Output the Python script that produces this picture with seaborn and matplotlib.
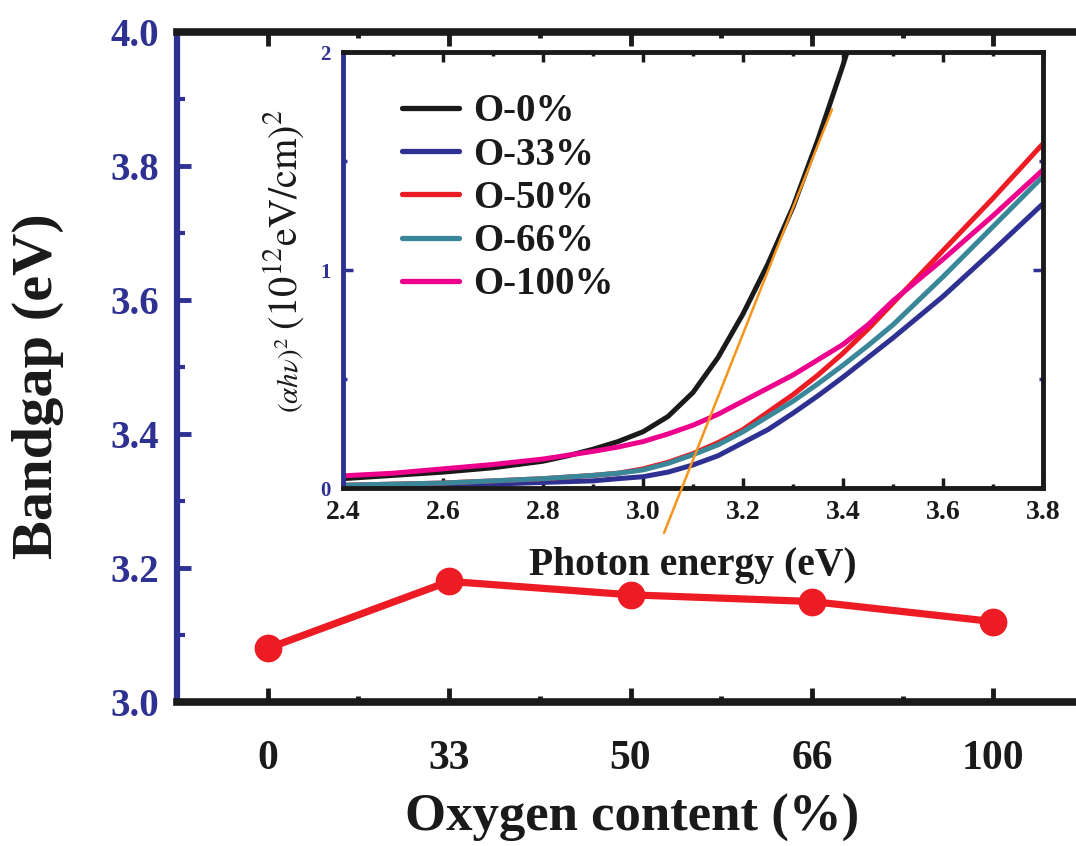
import numpy as np
import pandas as pd
import matplotlib
matplotlib.use("Agg")
import matplotlib.pyplot as plt
import seaborn as sns
from matplotlib.ticker import MultipleLocator, FormatStrFormatter

# ---------------- data ----------------
oxygen_labels = ["0", "33", "50", "66", "100"]
bandgap_ev = [3.08, 3.18, 3.16, 3.15, 3.12]

energy = [2.4, 2.5, 2.6, 2.7, 2.8, 2.9, 2.95, 3.0, 3.05, 3.1, 3.15, 3.2, 3.25,
          3.3, 3.35, 3.4, 3.45, 3.5, 3.6, 3.7, 3.8]
energy_o0 = [2.4, 2.5, 2.6, 2.7, 2.8, 2.85, 2.9, 2.95, 3.0, 3.05, 3.1, 3.15,
             3.2, 3.25, 3.3, 3.35, 3.4, 3.45]
abs_o0 = [0.045, 0.06, 0.075, 0.095, 0.125, 0.15, 0.18, 0.215, 0.26, 0.33,
          0.44, 0.60, 0.80, 1.03, 1.29, 1.60, 1.94, 2.30]
abs_o33 = [0.008, 0.01, 0.015, 0.02, 0.028, 0.035, 0.045, 0.054, 0.075, 0.108,
           0.15, 0.21, 0.27, 0.345, 0.425, 0.51, 0.60, 0.69, 0.88, 1.09, 1.305]
abs_o50 = [0.015, 0.02, 0.025, 0.035, 0.045, 0.06, 0.07, 0.09, 0.12, 0.16,
           0.21, 0.27, 0.35, 0.43, 0.52, 0.62, 0.73, 0.85, 1.09, 1.33, 1.58]
abs_o66 = [0.015, 0.02, 0.025, 0.035, 0.045, 0.06, 0.07, 0.085, 0.115, 0.155,
           0.20, 0.26, 0.33, 0.40, 0.48, 0.565, 0.655, 0.75, 0.97, 1.20, 1.43]
abs_o100 = [0.058, 0.07, 0.09, 0.11, 0.135, 0.17, 0.19, 0.215, 0.25, 0.29,
            0.34, 0.40, 0.46, 0.52, 0.59, 0.66, 0.75, 0.86, 1.05, 1.25, 1.46]
series_names = ["O-0%", "O-33%", "O-50%", "O-66%", "O-100%"]
series_colors = ["#1a1a1a", "#2e3192", "#ed1c24", "#3a8799", "#ec008c"]

tangent_energy = [3.042, 3.378]
tangent_values = [-0.204, 1.737]

# ---------------- style ----------------
sns.set_theme(style="ticks")
plt.rcParams["font.family"] = ["Liberation Serif", "DejaVu Serif"]
plt.rcParams["mathtext.fontset"] = "stix"
plt.rcParams["axes.facecolor"] = "white"

AXBLUE = "#2e3192"
INK = "#1a1a1a"
W, H = 1076, 846
fig = plt.figure(figsize=(W / 100, H / 100), dpi=100)

# ---------------- main axes ----------------
ax = fig.add_axes([177 / W, (H - 702) / H, (1084 - 177) / W, (702 - 32) / H])
pos = np.arange(len(oxygen_labels))
sns.lineplot(x=pos, y=bandgap_ev, ax=ax, color="#ed1c24", lw=5.2,
             marker="o", markersize=20, markeredgewidth=0, zorder=3)
ax.set_xlim(-0.5, 4.5)
ax.set_ylim(3.0, 4.0)
ax.set_xticks(pos)
ax.set_xticklabels(oxygen_labels)
ax.xaxis.set_minor_locator(MultipleLocator(0.5))
ax.yaxis.set_major_locator(MultipleLocator(0.2))
ax.yaxis.set_minor_locator(MultipleLocator(0.1))
ax.yaxis.set_major_formatter(FormatStrFormatter("%.1f"))

for s in ["top", "bottom"]:
    ax.spines[s].set_color(INK)
    ax.spines[s].set_linewidth(5.5)
ax.spines["left"].set_color(AXBLUE)
ax.spines["left"].set_linewidth(4.5)
ax.spines["right"].set_visible(False)

ax.tick_params(axis="x", which="major", direction="in", length=10, width=3.5,
               color=INK, top=True, pad=27, labelsize=30, labelcolor=INK)
ax.tick_params(axis="x", which="minor", direction="in", length=4, width=3.5,
               color=INK, top=True)
ax.tick_params(axis="y", which="major", direction="in", length=10, width=3.5,
               color=AXBLUE, pad=13, labelsize=28, labelcolor=AXBLUE)
ax.tick_params(axis="y", which="minor", direction="in", length=6, width=3.0,
               color=AXBLUE)
for lab in ax.get_xticklabels() + ax.get_yticklabels():
    lab.set_fontweight("bold")

ax.set_xlabel("")
ax.set_ylabel("")
fig.text(632 / W, 1 - 818 / H, "Oxygen content (%)", ha="center", va="center",
         fontsize=38, fontweight="bold", color=INK)
fig.text(38 / W, 1 - 386 / H, "Bandgap (eV)", ha="center", va="center",
         rotation=90, fontsize=42, fontweight="bold", color=INK)

# ---------------- inset ----------------
axi = fig.add_axes([343 / W, (H - 488.5) / H, (1043 - 343) / W, (488.5 - 52) / H])
frames = [pd.DataFrame({"energy": energy_o0, "value": abs_o0, "sample": series_names[0]})]
for name, vals in zip(series_names[1:], [abs_o33, abs_o50, abs_o66, abs_o100]):
    frames.append(pd.DataFrame({"energy": energy, "value": vals, "sample": name}))
df = pd.concat(frames, ignore_index=True)
sns.lineplot(data=df, x="energy", y="value", hue="sample", hue_order=series_names,
             palette=dict(zip(series_names, series_colors)), lw=3.6, ax=axi,
             estimator=None, sort=False)
for ln in axi.get_lines():
    ln.set_solid_capstyle("round")
    ln.set_solid_joinstyle("round")
axi.plot(tangent_energy, tangent_values, color="#f7941d", lw=1.8,
         clip_on=False, zorder=5)

axi.set_xlim(2.4, 3.8)
axi.set_ylim(0, 2)
axi.xaxis.set_major_locator(MultipleLocator(0.2))
axi.xaxis.set_minor_locator(MultipleLocator(0.1))
axi.yaxis.set_major_locator(MultipleLocator(1))
axi.yaxis.set_minor_locator(MultipleLocator(0.5))
axi.xaxis.set_major_formatter(FormatStrFormatter("%.1f"))
for s in ["top", "bottom", "right"]:
    axi.spines[s].set_color(INK)
    axi.spines[s].set_linewidth(3.5)
axi.spines["left"].set_color(AXBLUE)
axi.spines["left"].set_linewidth(3.5)
axi.tick_params(axis="x", which="major", direction="in", length=7, width=2.5,
                color=INK, top=True, pad=8, labelsize=20, labelcolor=INK)
axi.tick_params(axis="x", which="minor", direction="in", length=3, width=2.5,
                color=INK, top=True)
axi.tick_params(axis="y", which="major", direction="in", length=7, width=2.5,
                color=AXBLUE, right=True, pad=9, labelsize=15,
                labelcolor=AXBLUE)
axi.tick_params(axis="y", which="minor", direction="in", length=3, width=2.5,
                color=AXBLUE, right=True)
for lab in axi.get_xticklabels() + axi.get_yticklabels():
    lab.set_fontweight("bold")
axi.set_xlabel("Photon energy (eV)", fontsize=28.5, fontweight="bold",
               color=INK, labelpad=16)
axi.set_ylabel("")
fig.text(306 / W, 1 - 413 / H, r"$(\alpha h\nu)^2$", rotation=90,
         ha="right", va="bottom", fontsize=21, color=INK)
fig.text(306 / W, 1 - 330 / H, r"$(10^{12}\mathrm{eV/cm})^2$", rotation=90,
         ha="right", va="bottom", fontsize=29, color=INK)

leg = axi.legend(loc="upper left", bbox_to_anchor=(0.084, 0.905), frameon=False,
                 borderpad=0, borderaxespad=0, handlelength=1.47,
                 handletextpad=0.36, labelspacing=0.16,
                 prop={"family": "Liberation Serif", "weight": "bold", "size": 28})
for line in leg.get_lines():
    line.set_linewidth(3.8)
for t in leg.get_texts():
    t.set_color(INK)

fig.savefig("out.png", dpi=100)
